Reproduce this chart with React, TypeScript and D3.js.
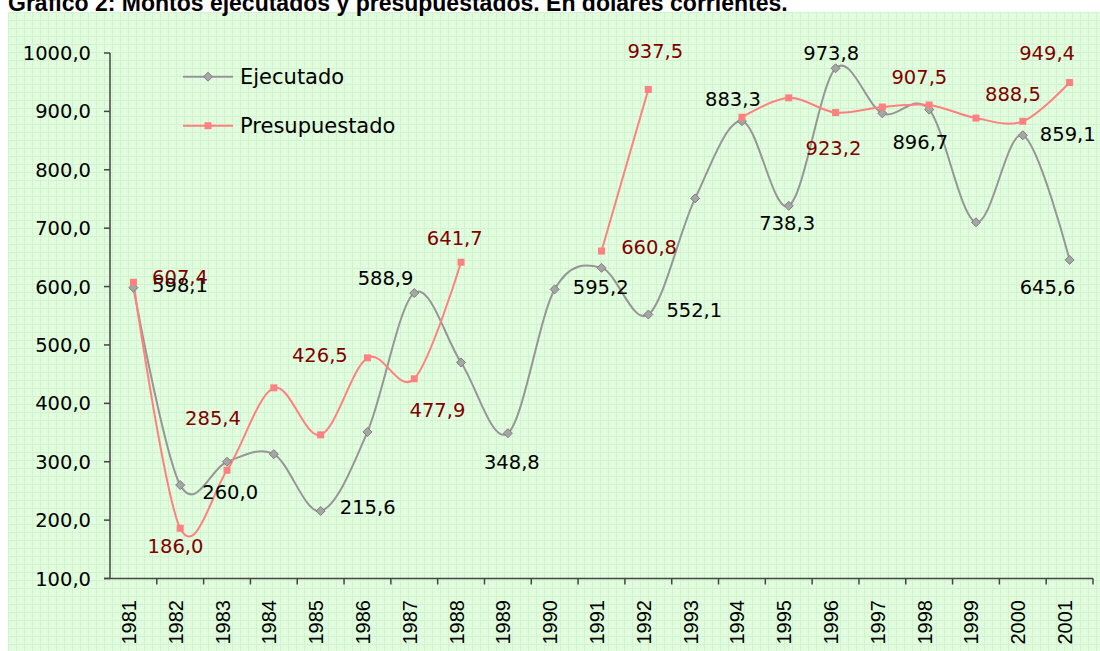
import React from "react";
import * as d3 from "d3";

const years = ["1981","1982","1983","1984","1985","1986","1987","1988","1989","1990","1991","1992","1993","1994","1995","1996","1997","1998","1999","2000","2001"];
const ejecutado: number[] = [598.1, 260.0, 300.0, 313.0, 215.6, 351.0, 588.9, 470.0, 348.8, 595.2, 632.0, 552.1, 751.0, 883.3, 738.3, 973.8, 896.7, 903.0, 710.0, 859.1, 645.6];
const presupuestado: (number | null)[] = [607.4, 186.0, 285.4, 426.5, 346.0, 477.9, 442.0, 641.7, null, null, 660.8, 937.5, null, 890.0, 923.2, 898.0, 907.5, 911.0, 888.5, 883.0, 949.4];
const yTicks = [100, 200, 300, 400, 500, 600, 700, 800, 900, 1000];

const title = "Gráfico 2: Montos ejecutados y presupuestados. En dólares corrientes.";
const seriesNames = ["Ejecutado", "Presupuestado"];

// label placement (layout): offset of label centre from point, per year
const ejeLabelPos: [string, number, number][] = [
  ["1981", 46.6, -3], ["1982", 50, 7], ["1985", 47, -4], ["1987", -28.7, -15],
  ["1989", 4, 29], ["1990", 46, -2], ["1992", 46, -4.5], ["1994", -9, -22],
  ["1995", -1.6, 17], ["1996", -4.4, -15], ["1997", 38, 29], ["2000", 45, -1],
  ["2001", -22, 27.5],
];
const preLabelPos: [string, number, number][] = [
  ["1981", 46.6, -5.7], ["1982", -4.7, 18], ["1983", -14, -52], ["1984", 46, -33],
  ["1986", 70, 52], ["1988", -6.3, -24], ["1991", 47.6, -4], ["1992", 7, -38.5],
  ["1995", 44.7, 49.7], ["1997", 37, -30], ["1999", 37, -24], ["2001", -22.5, -29.5],
];

const W = 1100, H = 651;
const left = 110, right = 1093, top = 53, bottom = 578.5;
const fmt = (v: number) => v.toFixed(1).replace(".", ",");
const labelFont = "'DejaVu Sans', Verdana, sans-serif";

export default function App() {
  const x = d3.scaleBand<string>().domain(years).range([left, right]);
  const cx = (yr: string) => (x(yr) as number) + x.bandwidth() / 2;
  const y = d3.scaleLinear().domain([100, 1000]).range([bottom, top]);

  const ejeData = years.map((yr, i) => ({ yr, v: ejecutado[i] as number | null }));
  const preData = years.map((yr, i) => ({ yr, v: presupuestado[i] }));

  const line = d3.line<{ yr: string; v: number | null }>()
    .defined(d => d.v !== null)
    .x(d => cx(d.yr))
    .y(d => y(d.v as number))
    .curve(d3.curveCardinal.tension(0));

  const diamond = (px: number, py: number, r = 4.5) =>
    `M${px},${py - r}L${px + r},${py}L${px},${py + r}L${px - r},${py}Z`;

  const valOf = (arr: (number | null)[], yr: string) => arr[years.indexOf(yr)] as number;

  return (
    <div style={{ position: "absolute", left: 0, top: 0 }}>
      <svg width={W} height={H} style={{ display: "block" }}>
        <defs>
          <pattern id="grid" width="8" height="8" patternUnits="userSpaceOnUse" x="8" y="12">
            <rect width="8" height="8" fill="#E2FCDF" />
            <path d="M0,0.5H8M0.5,0V8" stroke="#D0F5CC" strokeWidth="1" fill="none" />
          </pattern>
        </defs>
        <rect x={0} y={0} width={W} height={H} fill="#fff" />
        <rect x={8} y={12} width={W - 8} height={H - 12} fill="url(#grid)" />
        <text x={8} y={11} fontFamily="'Liberation Sans', Arial, sans-serif" fontWeight="bold" fontSize={23} fill="#000">{title}</text>

        {/* axes */}
        <g stroke="#444" strokeWidth={1.5} fill="none">
          <line x1={left} y1={top} x2={left} y2={bottom} />
          <line x1={left - 6} y1={bottom} x2={right} y2={bottom} />
          {yTicks.map(t => <line key={t} x1={left - 6} x2={left} y1={y(t)} y2={y(t)} />)}
          {years.map(yr => {
            const xx = (x(yr) as number) + x.bandwidth();
            return <line key={yr} x1={xx} x2={xx} y1={bottom} y2={bottom + 6} />;
          })}
        </g>
        {yTicks.map(t => (
          <text key={t} x={91} y={y(t) + 7} textAnchor="end" fontFamily={labelFont} fontSize={19.5} fill="#000">{fmt(t)}</text>
        ))}
        {years.map(yr => (
          <text key={yr} transform={`translate(${cx(yr) + 2.5},600) rotate(-90)`} textAnchor="end" fontFamily="'Liberation Sans', Arial, sans-serif" fontSize={20} fill="#000">{yr}</text>
        ))}

        {/* lines */}
        <path d={line(ejeData) || ""} fill="none" stroke="#969696" strokeWidth={2} />
        <path d={line(preData) || ""} fill="none" stroke="#FF8080" strokeWidth={2} />

        {/* markers */}
        {ejeData.map(d => d.v !== null && (
          <path key={"e" + d.yr} d={diamond(cx(d.yr), y(d.v))} fill="#A6A6A6" stroke="#7F7F7F" strokeWidth={1} />
        ))}
        {preData.map(d => d.v !== null && (
          <rect key={"p" + d.yr} x={cx(d.yr) - 3.5} y={y(d.v) - 3.5} width={7} height={7} fill="#FF8080" />
        ))}

        {/* labels */}
        {ejeLabelPos.map(([yr, dx, dy]) => {
          const v = valOf(ejecutado, yr);
          return <text key={"el" + yr} x={cx(yr) + dx} y={y(v) + dy + 7} textAnchor="middle" fontFamily={labelFont} fontSize={19.5} fill="#000">{fmt(v)}</text>;
        })}
        {preLabelPos.map(([yr, dx, dy]) => {
          const v = valOf(presupuestado, yr);
          return <text key={"pl" + yr} x={cx(yr) + dx} y={y(v) + dy + 7} textAnchor="middle" fontFamily={labelFont} fontSize={19.5} fill="#800000">{fmt(v)}</text>;
        })}

        {/* legend */}
        <g>
          <line x1={183} x2={233} y1={76.7} y2={76.7} stroke="#969696" strokeWidth={2} />
          <path d={diamond(208, 76.7)} fill="#A6A6A6" stroke="#7F7F7F" strokeWidth={1} />
          <text x={240} y={84} fontFamily={labelFont} fontSize={21} fill="#000">{seriesNames[0]}</text>
          <line x1={183} x2={233} y1={125.7} y2={125.7} stroke="#FF8080" strokeWidth={2} />
          <rect x={208 - 3.5} y={125.7 - 3.5} width={7} height={7} fill="#FF8080" />
          <text x={240} y={133} fontFamily={labelFont} fontSize={21} fill="#000">{seriesNames[1]}</text>
        </g>
      </svg>
    </div>
  );
}
